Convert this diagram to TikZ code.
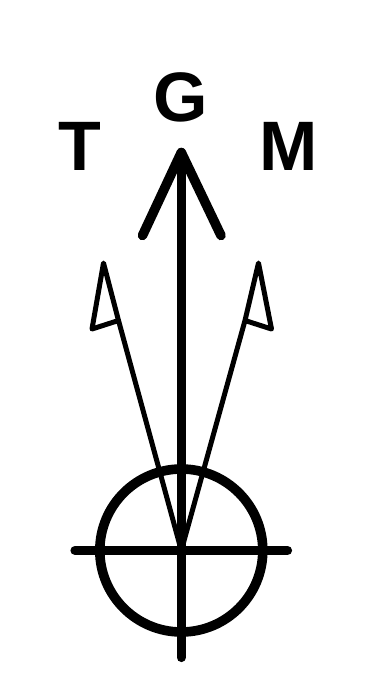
\documentclass[tikz,border=0pt]{standalone}
\usepackage{fontspec}
\setmainfont{Liberation Sans}
\tikzset{
  lbl/.style={font=\bfseries\fontsize{70}{70}\selectfont, inner sep=0pt, text=black},
  heavy/.style={line width=9.6pt, line cap=round, line join=round},
  thinarrow/.style={line width=5pt, line join=round, line cap=round},
  cross/.style={line width=9.2pt, line cap=round}
}
\begin{document}
\begin{tikzpicture}[x=1pt,y=-1pt]
\useasboundingbox (0,0) rectangle (372,690);
\node[lbl] (G) at (180.7,97.5) {G};
\node[lbl] (T) at (80.3,146) {T};
\node[lbl] (M) at (288.7,146) {M};
\coordinate (O) at (181.3,550.5);
\coordinate (top) at (181.3,152.5);
\coordinate (bot) at (181.3,657.5);
\coordinate (hl) at (142.5,235.5);
\coordinate (hr) at (221,235.5);
\coordinate (cl) at (75,550.5);
\coordinate (cr) at (287.5,550.5);
\draw[cross] (cl) -- (cr);
\draw[cross] (top) -- (bot);
\draw[heavy] (hl) -- (top) -- (hr);
\draw[line width=9.6pt] (O) circle (81.5);
\draw[thinarrow] (O) -- (118.5,320.5) -- (92,329) -- (103.5,263) -- (118.5,320.5);
\draw[thinarrow] (O) -- (245,320.5) -- (271.5,329) -- (258.5,263) -- (245,320.5);
\end{tikzpicture}
\end{document}
